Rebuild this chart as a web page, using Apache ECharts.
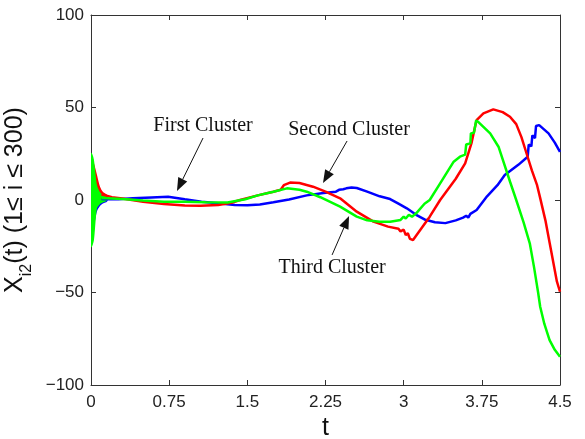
<!DOCTYPE html>
<html><head><meta charset="utf-8">
<script src="https://cdn.jsdelivr.net/npm/echarts@6/dist/echarts.min.js"></script>
<style>html,body{margin:0;padding:0;background:#fff;overflow:hidden}#c{width:585px;height:439px}</style>
</head><body><div id="c"></div>
<script>
// ---- data ----
const blueT = [0.1, 0.15, 0.26, 0.4, 0.58, 0.74, 0.9, 1.06, 1.22, 1.38, 1.5, 1.62, 1.75, 1.9, 2.07, 2.23, 2.35, 2.38, 2.42, 2.45, 2.5, 2.55, 2.65, 2.77, 2.87, 2.95, 3.03, 3.12, 3.2, 3.3, 3.4, 3.5, 3.57, 3.6, 3.62, 3.64, 3.7, 3.8, 3.9, 3.97, 4.1, 4.19, 4.2, 4.225, 4.235, 4.26, 4.27, 4.3, 4.39, 4.45, 4.5];
const blueV = [0.6, 0.4, 0.4, 0.9, 1.4, 1.8, 0.4, -0.9, -1.8, -2.7, -2.8, -2.4, -1.2, 0.3, 2.5, 3.8, 4.5, 5.5, 5.8, 6.3, 6.8, 6.5, 4.5, 2, 0.5, -2, -4.5, -8, -10.5, -12, -12.5, -11, -9.5, -8.5, -9.5, -7.5, -5.4, 2, 8, 13.5, 19, 23.4, 30, 29, 35, 33.5, 40, 40.5, 36, 31, 26];

const redT = [0.1, 0.14, 0.2, 0.3, 0.5, 0.7, 0.9, 1.05, 1.22, 1.35, 1.43, 1.6, 1.75, 1.82, 1.85, 1.91, 2.0, 2.13, 2.25, 2.39, 2.55, 2.71, 2.85, 2.95, 2.97, 3.0, 3.02, 3.04, 3.06, 3.09, 3.25, 3.35, 3.5, 3.59, 3.62, 3.65, 3.685, 3.7, 3.765, 3.86, 3.95, 4.02, 4.08, 4.13, 4.18, 4.23, 4.28, 4.31, 4.36, 4.4, 4.47, 4.5];
const redV = [3, 2.5, 1.5, 0.8, -1, -2.2, -3, -3.1, -2.7, -1.5, 0, 2.5, 4.5, 5.5, 8, 9.4, 9.2, 7.2, 4.5, 0.9, -6.3, -11.7, -14.4, -15.5, -17, -16, -19, -18, -21, -21.6, -9, 0, 11.5, 19.8, 25.2, 30.6, 39.6, 43.2, 46.8, 49, 47.5, 45, 41, 34, 25, 16, 8, 1, -11, -23, -44, -49.6];

const greenT = [0.1, 0.15, 0.3, 0.5, 0.7, 0.9, 1.1, 1.31, 1.48, 1.6, 1.75, 1.88, 2.0, 2.07, 2.2, 2.39, 2.55, 2.65, 2.77, 2.87, 2.97, 3.0, 3.02, 3.05, 3.08, 3.12, 3.2, 3.25, 3.35, 3.48, 3.54, 3.59, 3.6, 3.64, 3.645, 3.675, 3.695, 3.72, 3.83, 3.91, 4.02, 4.08, 4.15, 4.21, 4.25, 4.29, 4.31, 4.35, 4.4, 4.45, 4.5];
const greenV = [1, 1, 0.5, -0.3, -1, -0.9, -1.2, -1.4, 0.4, 2.5, 4.5, 6.3, 5.5, 4.5, 1.5, -3.6, -9, -11, -11.7, -11.7, -10.8, -9, -10, -8, -9, -7.2, -2, 0, 9, 20.7, 23.4, 24.5, 30, 30.6, 36, 36.4, 43, 42, 36, 28.8, 10, 0, -12, -23.4, -36, -50, -57.7, -67, -75.7, -81, -84.7];

// initial transient spread of the 300 trajectories (upper / lower envelope)
const bandT = [0, 0.02, 0.05, 0.08, 0.11, 0.15];
const blueUpper = [8, 5, 3, 2, 1.5, 1];
const blueLower = [-20, -15, -6, -3, -1.5, -0.5];
const redUpper = [22, 20, 13.5, 7, 4, 2.5];
const redLower = [-5, -3, -2, -1, 0, 0.5];
const greenUpper = [25, 22, 8, 4, 2.5, 1.5];
const greenLower = [-25, -22, -4.5, -2, -1, 0];

const xTicks = [0, 0.75, 1.5, 2.25, 3, 3.75, 4.5];
const yTicks = [-100, -50, 0, 50, 100];

const annotations = [
  {text: 'First Cluster', label: [1.075, 40], tail: [1.075, 33.5], head: [0.825, 4.9]},
  {text: 'Second Cluster', label: [2.476, 37.8], tail: [2.457, 31.9], head: [2.226, 9.2]},
  {text: 'Third Cluster', label: [2.313, -36.8], tail: [2.313, -29.7], head: [2.476, -8.6]}
];

// ---- chart ----
const BLUE = '#0000ff', RED = '#ff0000', GREEN = '#00ff00';
const chart = echarts.init(document.getElementById('c'), null, {renderer: 'canvas', width: 585, height: 439});

function pairs(t, v) { return t.map((x, i) => [x, v[i]]); }
function band(name, upper, lower, color) {
  return {
    type: 'custom', name: name, clip: true, silent: true,
    data: [[bandT[0], upper[0]]],
    renderItem: function (params, api) {
      const pts = [];
      for (let i = 0; i < bandT.length; i++) pts.push(api.coord([bandT[i], upper[i]]));
      for (let i = bandT.length - 1; i >= 0; i--) pts.push(api.coord([bandT[i], lower[i]]));
      return {type: 'polygon', shape: {points: pts, smooth: 0.3}, style: {fill: color, stroke: color, lineWidth: 1.5}};
    }
  };
}
function line(name, t, v, color) {
  return {
    type: 'line', name: name, data: pairs(t, v), showSymbol: false, symbol: 'none',
    lineStyle: {color: color, width: 2.5}, itemStyle: {color: color}, clip: true
  };
}
const minus = v => String(v).replace('-', '\u2212');
const axisCol = '#333';
const tickFont = {fontFamily: 'Liberation Sans', fontSize: 17, color: '#222'};
const boxLine = {onZero: false, lineStyle: {color: axisCol, width: 1}};
const tick = {inside: true, length: 5, lineStyle: {color: axisCol}};

const option = {
  animation: false,
  backgroundColor: '#fff',
  grid: {left: 91, width: 469, top: 15, height: 370, containLabel: false, outerBoundsMode: 'none'},
  xAxis: [{
    type: 'value', min: xTicks[0], max: xTicks[xTicks.length - 1], interval: 0.75,
    axisLine: boxLine, axisTick: tick,
    axisLabel: Object.assign({margin: 9, formatter: minus}, tickFont),
    splitLine: {show: false},
    name: 't', nameLocation: 'middle', nameGap: 30,
    nameTextStyle: {fontFamily: 'Liberation Sans', fontSize: 25, color: '#111'}
  }, {
    type: 'value', position: 'top', min: xTicks[0], max: xTicks[xTicks.length - 1], interval: 0.75,
    axisLine: boxLine, axisTick: tick,
    axisLabel: {show: false}, splitLine: {show: false}
  }],
  yAxis: [{
    type: 'value', min: yTicks[0], max: yTicks[yTicks.length - 1], interval: 50,
    axisLine: boxLine, axisTick: tick,
    axisLabel: Object.assign({margin: 7, formatter: minus}, tickFont),
    splitLine: {show: false},
    name: '{a|X}{b|i2}{a|(t) (1\u2264 i \u2264 300)}', nameLocation: 'middle', nameGap: 34,
    nameTextStyle: {
      color: '#111',
      rich: {
        a: {fontFamily: 'Liberation Sans', fontSize: 25, color: '#111', verticalAlign: 'bottom'},
        b: {fontFamily: 'Liberation Sans', fontSize: 16, color: '#111', verticalAlign: 'bottom', padding: [0, 0, -7, 0]}
      }
    }
  }, {
    type: 'value', position: 'right', min: yTicks[0], max: yTicks[yTicks.length - 1], interval: 50,
    axisLine: boxLine, axisTick: tick,
    axisLabel: {show: false}, splitLine: {show: false}
  }],
  series: [
    band('First Cluster spread', blueUpper, blueLower, BLUE),
    band('Second Cluster spread', redUpper, redLower, RED),
    band('Third Cluster spread', greenUpper, greenLower, GREEN),
    line('First Cluster', blueT, blueV, BLUE),
    line('Second Cluster', redT, redV, RED),
    line('Third Cluster', greenT, greenV, GREEN)
  ]
};
chart.setOption(option);

// annotations positioned from data coordinates
const gfx = [];
annotations.forEach(a => {
  const p = chart.convertToPixel({gridIndex: 0}, a.label);
  const t = chart.convertToPixel({gridIndex: 0}, a.tail);
  const h = chart.convertToPixel({gridIndex: 0}, a.head);
  gfx.push({type: 'text', x: p[0], y: p[1], style: {text: a.text, fontFamily: 'Liberation Serif', fontSize: 20, fill: '#111', align: 'center', verticalAlign: 'middle'}, z: 100});
  const dx = h[0] - t[0], dy = h[1] - t[1], L = Math.hypot(dx, dy), ux = dx / L, uy = dy / L;
  const hl = 13, hw = 5;
  const bx = h[0] - ux * hl, by = h[1] - uy * hl;
  gfx.push({type: 'line', shape: {x1: t[0], y1: t[1], x2: bx, y2: by}, style: {stroke: '#111', lineWidth: 1}, z: 100});
  gfx.push({type: 'polygon', shape: {points: [[h[0], h[1]], [bx - uy * hw, by + ux * hw], [bx + uy * hw, by - ux * hw]]}, style: {fill: '#111'}, z: 100});
});
chart.setOption({graphic: gfx});
</script>
</body></html>
